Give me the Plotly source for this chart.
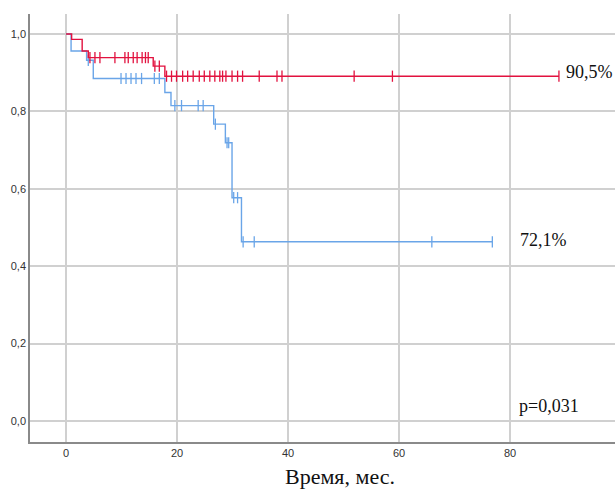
import numpy as np
import plotly.graph_objects as go

# Group 1 (red) Kaplan-Meier steps
red_step_t = [0, 1.0, 2.9, 4.0, 15.7, 17.8]
red_step_s = [1.0, 0.986, 0.956, 0.939, 0.917, 0.891]
red_censor_t = [4.3, 5.2, 6.1, 8.8, 10.6, 11.2, 12.1, 12.8, 13.7, 14.3, 14.8,
                16.0, 16.8, 18.1, 19.0, 19.9, 21.0, 21.9, 22.9, 24.0, 24.9,
                25.9, 26.8, 27.7, 28.2, 28.8, 29.9, 30.9, 31.8, 34.8, 38.0,
                38.9, 51.9, 58.8, 88.8]

# Group 2 (blue)
blue_step_t = [0, 0.9, 3.7, 4.9, 17.8, 18.9, 26.6, 28.7, 29.9, 31.6]
blue_step_s = [1.0, 0.956, 0.932, 0.885, 0.849, 0.815, 0.767, 0.719, 0.577, 0.463]
blue_censor_t = [4.0, 9.9, 10.8, 11.7, 12.6, 13.6, 15.9, 16.8, 19.6, 20.8,
                 23.8, 24.7, 26.9, 29.0, 29.3, 30.2, 30.9, 31.9, 33.9, 65.9, 76.8]

x_ticks = [0, 20, 40, 60, 80, 100]
y_ticks = [0.0, 0.2, 0.4, 0.6, 0.8, 1.0]

label_red = "90,5%"
label_blue = "72,1%"
p_text = "p=0,031"
x_title = "Время, мес."

RED = "#e2123f"
BLUE = "#6aa5e8"


def surv_at(t, st, ss):
    idx = np.searchsorted(np.array(st), t, side="right") - 1
    return ss[idx]


fig = go.Figure()


def add_group(st, ss, ct, color):
    end_t = max(ct)
    xs = list(st) + [end_t]
    ys = list(ss) + [ss[-1]]
    fig.add_trace(go.Scatter(x=xs, y=ys, mode="lines", line_shape="hv",
                             line=dict(color=color, width=1.4),
                             hoverinfo="skip", showlegend=False))
    cy = [surv_at(t, st, ss) for t in ct]
    fig.add_trace(go.Scatter(x=ct, y=cy, mode="markers",
                             marker=dict(symbol="line-ns-open", size=8, color=color,
                                         line=dict(color=color, width=1.3)),
                             showlegend=False))


add_group(blue_step_t, blue_step_s, blue_censor_t, BLUE)
add_group(red_step_t, red_step_s, red_censor_t, RED)

serif = "Liberation Serif, Times New Roman, serif"

fig.add_annotation(x=1.0, y=red_step_s[-1] + 0.01, xref="paper", yref="y",
                   text=label_red, showarrow=False, xanchor="right",
                   font=dict(family=serif, size=18, color="#111"))
fig.add_annotation(x=0.835, y=blue_step_s[-1] + 0.005, xref="paper", yref="y",
                   text=label_blue, showarrow=False, xanchor="left",
                   font=dict(family=serif, size=18, color="#111"))
fig.add_annotation(x=0.833, y=0.04, xref="paper", yref="y",
                   text=p_text, showarrow=False, xanchor="left",
                   font=dict(family=serif, size=18, color="#111"))
fig.add_annotation(x=0.53, y=-0.08, xref="paper", yref="paper",
                   text=x_title, showarrow=False, xanchor="center", yanchor="middle",
                   font=dict(family=serif, size=22, color="#111"))

fig.update_layout(
    width=615, height=491,
    margin=dict(l=30, r=0, t=14, b=49),
    plot_bgcolor="white", paper_bgcolor="white",
    separators=", ",
    font=dict(family="Liberation Sans, Arial, sans-serif", size=11, color="#333"),
    xaxis=dict(range=[-6.5, 98.9], tickvals=x_ticks, showgrid=True,
               gridcolor="#d0d0d0", gridwidth=1.5, zeroline=False,
               showline=True, linecolor="#8a8a8a", linewidth=1.5,
               ticks="", ticklen=0),
    yaxis=dict(range=[-0.0543, 1.0517], tickvals=y_ticks, tickformat=".1f",
               showgrid=True, gridcolor="#d0d0d0", gridwidth=1.5, zeroline=False,
               showline=True, linecolor="#8a8a8a", linewidth=1.5,
               ticks="", ticklen=0),
)

fig.write_html("out.html")
